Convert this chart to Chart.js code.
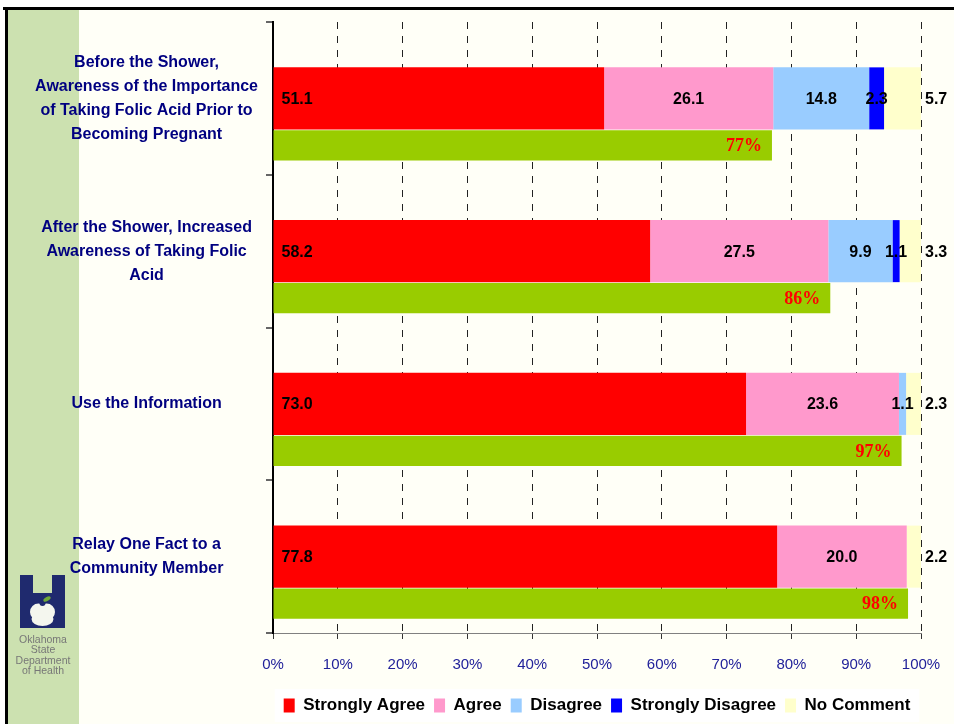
<!DOCTYPE html>
<html>
<head>
<meta charset="utf-8">
<script src="https://cdn.jsdelivr.net/npm/chart.js@4.4.1/dist/chart.umd.min.js"></script>
<style>
  html, body { margin: 0; padding: 0; background: #ffffff; }
  #wrap { width: 954px; height: 724px; position: relative; }
</style>
</head>
<body>
<div id="wrap"><canvas id="surveyChart"></canvas></div>
<script>
// survey answers, percent of respondents
const categories = [
  ['Before the Shower,', 'Awareness of the Importance', 'of Taking Folic Acid Prior to', 'Becoming Pregnant'],
  ['After the Shower, Increased', 'Awareness of Taking Folic', 'Acid'],
  ['Use the Information'],
  ['Relay One Fact to a', 'Community Member']
];
const stronglyAgree = [51.1, 58.2, 73.0, 77.8];
const agree = [26.1, 27.5, 23.6, 20.0];
const disagree = [14.8, 9.9, 1.1, 0];
const stronglyDisagree = [2.3, 1.1, 0, 0];
const noComment = [5.7, 3.3, 2.3, 2.2];
const agreeTotal = [77, 86, 97, 98];
const xTicks = [0, 10, 20, 30, 40, 50, 60, 70, 80, 90, 100];

const seriesNames = ['Strongly Agree', 'Agree', 'Disagree', 'Strongly Disagree', 'No Comment'];
const seriesValues = [stronglyAgree, agree, disagree, stronglyDisagree, noComment];
const seriesColors = ['#FF0000', '#FF99CC', '#99CCFF', '#0000FF', '#FFFFCC'];
const labelModes = ['start', 'center', 'center', 'center', 'outside'];

const ctx = document.getElementById('surveyChart').getContext('2d');

const pageBackground = {
  id: 'pageBackground',
  beforeDraw(chart) {
    const c = chart.ctx;
    const w = chart.width, h = chart.height;
    c.save();
    c.fillStyle = '#ffffff';
    c.fillRect(0, 0, w, h);
    c.fillStyle = '#FFFFF7';
    c.fillRect(5, 7, w - 5, h - 7);
    c.fillStyle = '#CCE1B0';
    c.fillRect(8, 10, 71, h - 10);
    c.fillStyle = '#000000';
    c.fillRect(3, 7, w - 3, 3);
    c.fillRect(5, 7, 3, h - 7);

    // white box behind legend
    const lg = chart.legend;
    if (lg && lg.legendHitBoxes && lg.legendHitBoxes.length) {
      const hb = lg.legendHitBoxes;
      const first = hb[0], last = hb[hb.length - 1];
      c.fillStyle = '#ffffff';
      c.fillRect(first.left - 9, lg.top + 1, last.left + last.width - first.left + 18, lg.height - 3);
    }

    // logo
    c.fillStyle = '#1F2A6E';
    c.fillRect(20, 575, 13, 53);
    c.fillRect(52, 575, 13, 53);
    c.fillRect(33, 593, 19, 35);
    c.fillStyle = '#F4F6EE';
    c.beginPath();
    c.arc(38.5, 612, 8.5, 0, Math.PI * 2);
    c.arc(46.5, 612, 8.5, 0, Math.PI * 2);
    c.fill();
    c.beginPath();
    c.ellipse(42.5, 619, 11, 7, 0, 0, Math.PI * 2);
    c.fill();
    c.fillStyle = '#1F2A6E';
    c.beginPath();
    c.ellipse(42.5, 603, 3, 3, 0, 0, Math.PI * 2);
    c.fill();
    c.fillStyle = '#6FA83A';
    c.beginPath();
    c.ellipse(47, 599, 4, 2, -0.5, 0, Math.PI * 2);
    c.fill();

    c.fillStyle = '#777777';
    c.font = '10.5px "Liberation Sans", Arial, sans-serif';
    c.textAlign = 'center';
    c.textBaseline = 'middle';
    ['Oklahoma', 'State', 'Department', 'of Health'].forEach((t, i) => {
      c.fillText(t, 43, 640 + i * 10.5);
    });
    c.restore();
  }
};

const barLabels = {
  id: 'barLabels',
  afterDatasetsDraw(chart) {
    const c = chart.ctx;
    c.save();
    c.textBaseline = 'middle';
    chart.data.datasets.forEach((ds, di) => {
      const meta = chart.getDatasetMeta(di);
      meta.data.forEach((bar, i) => {
        if (ds.kind === 'series') {
          const v = seriesValues[ds.seriesIndex][i];
          if (!v) return;
          const mode = labelModes[ds.seriesIndex];
          c.font = 'bold 16px "Liberation Sans", Arial, sans-serif';
          c.fillStyle = '#000000';
          const txt = v.toFixed(1);
          if (mode === 'start') {
            c.textAlign = 'left';
            c.fillText(txt, bar.base + 8, bar.y + 1);
          } else if (mode === 'outside') {
            c.textAlign = 'left';
            c.fillText(txt, bar.x + 4, bar.y + 1);
          } else {
            c.textAlign = 'center';
            c.fillText(txt, (bar.x + bar.base) / 2, bar.y + 1);
          }
        } else if (ds.kind === 'total') {
          c.font = 'bold 18px "Liberation Serif", "Times New Roman", serif';
          c.fillStyle = '#FF0000';
          c.textAlign = 'right';
          c.fillText(agreeTotal[i] + '%', bar.x - 10, bar.y + 1);
        }
      });
    });
    c.restore();
  }
};

// three slots per category: empty spacer, stacked answers (centred), agree total below
const SLOT_PCT = 0.923;

const datasets = [{
  kind: 'spacer',
  label: 'spacer',
  data: categories.map(() => null),
  stack: 'spacer',
  categoryPercentage: SLOT_PCT,
  barPercentage: 1
}];

seriesNames.forEach((name, i) => {
  datasets.push({
    kind: 'series',
    seriesIndex: i,
    label: name,
    data: seriesValues[i],
    backgroundColor: seriesColors[i],
    borderWidth: 0,
    stack: 'answers',
    categoryPercentage: SLOT_PCT,
    barPercentage: 1.32
  });
});

datasets.push({
  kind: 'total',
  label: 'Agree total',
  data: agreeTotal,
  backgroundColor: '#99CC00',
  borderWidth: 0,
  stack: 'total',
  categoryPercentage: SLOT_PCT,
  barPercentage: 0.64
});

new Chart(ctx, {
  type: 'bar',
  data: {
    labels: categories,
    datasets: datasets
  },
  options: {
    indexAxis: 'y',
    responsive: true,
    maintainAspectRatio: false,
    animation: false,
    layout: {
      padding: { top: 22, right: 33, bottom: 0, left: 0 }
    },
    plugins: {
      tooltip: { enabled: false },
      legend: {
        position: 'bottom',
        fullSize: false,
        labels: {
          filter: (item) => seriesNames.includes(item.text),
          boxWidth: 11,
          boxHeight: 14,
          padding: 9,
          color: '#000000',
          font: { family: '"Liberation Sans", Arial, sans-serif', size: 17, weight: 'bold' }
        }
      }
    },
    scales: {
      x: {
        stacked: true,
        min: 0,
        max: 100,
        afterBuildTicks: (scale) => {
          scale.ticks = xTicks.map(v => ({ value: v }));
        },
        afterFit: (scale) => {
          scale.height = 55;
          scale.paddingLeft = 0;
          scale.paddingRight = 0;
        },
        ticks: {
          padding: 17,
          color: '#22229A',
          font: { family: '"Liberation Sans", Arial, sans-serif', size: 15 },
          callback: (v) => v + '%'
        },
        grid: {
          color: '#222222',
          lineWidth: 1,
          tickLength: 6,
          tickColor: '#333333'
        },
        border: {
          color: '#808080',
          width: 1,
          dash: [7, 7]
        }
      },
      y: {
        stacked: true,
        afterFit: (scale) => {
          scale.width = 273;
          scale.paddingTop = 0;
          scale.paddingBottom = 0;
        },
        ticks: {
          crossAlign: 'center',
          padding: 8,
          color: '#000080',
          font: { family: '"Liberation Sans", Arial, sans-serif', size: 16, weight: 'bold', lineHeight: 1.5 }
        },
        grid: {
          offset: true,
          drawOnChartArea: false,
          tickLength: 7,
          color: '#666666',
          lineWidth: 2
        },
        border: {
          color: '#000000',
          width: 2
        }
      }
    }
  },
  plugins: [pageBackground, barLabels]
});
</script>
</body>
</html>
